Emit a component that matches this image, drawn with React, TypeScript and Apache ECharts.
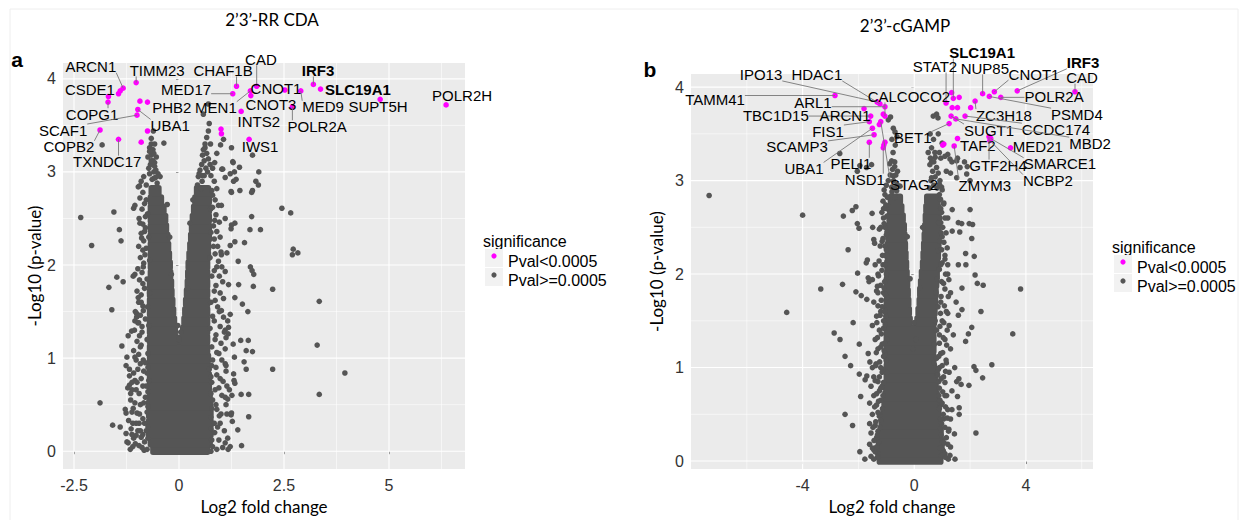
import React, { useEffect, useRef } from 'react';
import * as echarts from 'echarts';

const GREY = '#555555';
const MAGENTA = '#ff00ff';
const FONT = '"Liberation Sans", Arial, sans-serif';
const TFONT = 'Lato, "Open Sans", sans-serif';

// ---------- Panel a : 2'3'-RR CDA ----------
const aXRange = [-2.762, 6.81];
const aYRange = [-0.191, 4.17];
const aXTicks = [-2.5, 0, 2.5, 5];
const aXMinor = [-1.25, 1.25, 3.75, 6.25];
const aYTicks = [0, 1, 2, 3, 4];
const aYMinor = [0.5, 1.5, 2.5, 3.5];

// dense (fully overlapping) core of the cloud: [y, xStart, xEnd]
const aCoreRows: number[][] = [
  [0.02, -0.62, 0.68], [0.1, -0.68, 0.74], [0.2, -0.72, 0.76], [0.3, -0.72, 0.76], [0.4, -0.72, 0.76],
  [0.5, -0.72, 0.75], [0.6, -0.7, 0.74], [0.7, -0.7, 0.72], [0.8, -0.7, 0.72], [0.9, -0.7, 0.7],
  [1.0, -0.7, 0.7], [1.1, -0.7, 0.68],
  [1.2, -0.7, -0.06], [1.2, 0.06, 0.68], [1.3, -0.7, -0.09], [1.3, 0.09, 0.68],
  [1.4, -0.7, -0.11], [1.4, 0.12, 0.68], [1.5, -0.7, -0.13], [1.5, 0.14, 0.68],
  [1.6, -0.7, -0.15], [1.6, 0.16, 0.68], [1.7, -0.7, -0.17], [1.7, 0.18, 0.68],
  [1.8, -0.7, -0.18], [1.8, 0.2, 0.68], [1.9, -0.68, -0.2], [1.9, 0.21, 0.68],
  [2.0, -0.68, -0.21], [2.0, 0.22, 0.68], [2.1, -0.68, -0.23], [2.1, 0.24, 0.7],
  [2.2, -0.68, -0.25], [2.2, 0.26, 0.7], [2.3, -0.68, -0.27], [2.3, 0.28, 0.72],
  [2.4, -0.68, -0.3], [2.4, 0.3, 0.72], [2.5, -0.68, -0.32], [2.5, 0.32, 0.72],
  [2.6, -0.68, -0.36], [2.6, 0.35, 0.72], [2.7, -0.68, -0.42], [2.7, 0.38, 0.72],
  [2.8, -0.66, -0.48], [2.8, 0.42, 0.7],
];

const aGrey: number[][] = [
  // upper part of the arms
  [-1.83, 3.29], [-0.61, 3.44], [-0.66, 3.3], [-0.7, 3.26], [-0.62, 3.24], [-0.36, 3.31], [-0.66, 3.18],
  [-0.62, 3.12], [-0.68, 3.08], [-0.58, 3.1], [-0.55, 3.02], [-0.5, 2.98], [-0.45, 2.95], [-0.6, 2.93], [-0.52, 2.88],
  [0.58, 3.62], [0.7, 3.73], [0.72, 3.52], [0.7, 3.44], [0.66, 3.37], [0.99, 3.29], [0.62, 3.26], [0.58, 3.24],
  [0.56, 3.18], [0.66, 3.2], [1.28, 3.11], [1.44, 3.05], [1.75, 3.18], [1.04, 3.03], [0.5, 3.02], [0.56, 2.96],
  [0.68, 3.0], [0.46, 2.95], [0.55, 2.9], [0.44, 2.86], [0.52, 2.82], [1.22, 2.98], [1.32, 3.0], [1.36, 2.92],
  [1.9, 3.0], [1.83, 2.9], [1.75, 2.8], [1.45, 2.8],
  [-0.6, 3.0], [-0.7, 2.98], [-0.64, 2.92], [-0.56, 2.94], [-0.72, 3.04], [-0.58, 3.06], [-0.66, 3.12],
  [-0.74, 3.16], [-0.54, 3.16], [-0.6, 3.2], [-0.7, 3.22], [-0.66, 3.36], [-0.58, 3.3],
  [0.48, 2.98], [0.6, 2.96], [0.64, 3.04], [0.54, 3.08], [0.74, 3.08], [0.6, 3.12], [0.7, 3.14], [0.8, 3.04],
  [0.62, 3.3], [0.75, 3.3], [0.85, 3.1], [0.9, 3.2],
  // left outliers
  [-2.34, 2.51], [-2.08, 2.21], [-1.55, 2.57], [-1.42, 2.38], [-1.38, 2.26], [-1.48, 1.87], [-1.67, 1.76],
  [-1.33, 1.82], [-1.6, 1.52], [-1.08, 2.61], [-0.94, 2.85], [-1.09, 1.88], [-1.36, 1.13], [-1.24, 1.01],
  [-1.18, 0.88], [-1.88, 0.52], [-1.58, 0.28], [-1.4, 0.26], [-1.26, 0.41], [-1.18, 0.71], [-1.12, 0.66],
  [-1.15, 0.62], [-1.05, 0.76], [-1.0, 0.74], [-1.26, 0.19], [-1.21, 0.09], [-1.08, 0.14], [-1.02, 0.17],
  [-0.83, 0.01], [-1.01, 1.48], [-1.05, 1.4], [-0.96, 1.38], [-0.85, 1.51], [-1.09, 0.46], [-1.0, 0.41],
  [-1.14, 0.24], [-1.12, 0.18], [-0.95, 0.3], [-0.92, 0.22],
  // right outliers
  [1.3, 2.9], [1.24, 2.79], [1.89, 2.86], [1.73, 2.78], [1.73, 2.52], [1.69, 2.38], [1.94, 2.38], [2.45, 2.61],
  [2.66, 2.56], [2.72, 2.17], [2.83, 2.13], [2.7, 2.11], [1.56, 2.24], [1.33, 2.45], [1.24, 2.39], [1.41, 2.04],
  [1.7, 1.98], [1.74, 1.94], [1.78, 1.9], [1.77, 1.77], [2.23, 1.74], [1.42, 1.79], [1.51, 1.58], [1.64, 1.5],
  [3.34, 1.61], [3.29, 1.14], [3.95, 0.84], [3.34, 0.61], [2.23, 0.88], [1.47, 1.19], [1.65, 1.19], [1.6, 1.08],
  [1.75, 1.07], [1.55, 0.96], [1.6, 0.88], [1.32, 1.01], [1.3, 0.83], [1.31, 0.76], [1.48, 0.61], [1.66, 0.61],
  [1.66, 0.37], [1.49, 0.06], [1.17, 0.02], [1.22, 0.05], [1.24, 0.39], [1.27, 0.32], [1.14, 0.4], [1.16, 0.56],
  [1.2, 0.66], [1.26, 0.6], [1.17, 1.26], [1.16, 1.4], [1.22, 1.47], [1.1, 1.3], [1.12, 1.22], [1.14, 2.13], [1.22, 2.21],
  // inside the V
  [-0.03, 1.35], [0.04, 1.28], [0.0, 1.2], [-0.18, 1.9], [0.2, 1.75], [-0.22, 2.3], [0.26, 2.45], [-0.28, 2.65], [0.33, 2.7],
];

// scattered points bordering the dense core
const aFuzz: number[][] = [
  [-0.97, 2.84], [-1.05, 2.64], [-0.93, 2.45], [-0.89, 2.29], [-0.81, 2.11], [-1.05, 1.9], [-0.97, 1.65],
  [-1.01, 1.44], [-1.13, 1.29], [-1.21, 1.24], [-1.05, 1.01], [-0.78, 2.7], [-0.75, 2.55], [-0.8, 2.4],
  [-0.72, 2.3], [-0.78, 2.18], [-0.7, 2.05], [-0.85, 1.98], [-0.76, 1.85], [-0.82, 1.75], [-0.7, 1.7],
  [-0.9, 1.6], [-0.75, 1.55], [-0.8, 1.42], [-0.72, 1.35], [-0.88, 1.28], [-0.76, 1.2], [-0.92, 1.12],
  [-0.74, 1.05], [-0.85, 0.98],
  [-0.84, 2.95], [-0.9, 2.9], [-0.78, 2.86], [-0.86, 2.78], [-0.93, 2.72], [-0.82, 2.66], [-0.88, 2.6],
  [-0.8, 2.52], [-0.95, 2.5], [-0.86, 2.44], [-0.82, 2.36], [-0.9, 2.34], [-0.84, 2.26], [-0.96, 2.2],
  [-0.86, 2.16], [-0.92, 2.08], [-0.84, 2.02], [-0.98, 1.96], [-0.88, 1.92], [-0.94, 1.84], [-0.86, 1.8],
  [-1.0, 1.72], [-0.9, 1.68], [-0.96, 1.6], [-0.86, 1.56], [-1.04, 1.5], [-0.92, 1.46], [-0.98, 1.38],
  [-0.88, 1.34], [-1.06, 1.3], [-0.94, 1.24], [-1.0, 1.18], [-0.9, 1.14], [-1.08, 1.08], [-0.96, 1.04],
  [-1.02, 0.98], [-0.92, 0.94],
  [-1.26, 0.92], [-1.18, 0.81], [-1.22, 0.68], [-1.15, 0.55], [-1.28, 0.45], [-1.2, 0.33], [-1.24, 0.1],
  [-1.1, 0.05], [-0.95, 0.06], [-0.9, 0.15], [-0.82, 0.1], [-0.78, 0.22], [-0.86, 0.35], [-0.76, 0.42],
  [-0.92, 0.5], [-0.8, 0.58], [-0.95, 0.62], [-0.78, 0.7], [-0.9, 0.78], [-0.76, 0.84], [-0.98, 0.88],
  [-0.8, 0.95], [-1.05, 0.52], [-1.02, 0.3],
  [-0.74, 0.9], [-0.84, 0.86], [-1.08, 0.84], [-0.72, 0.76], [-1.12, 0.74], [-0.86, 0.7], [-0.74, 0.64],
  [-1.02, 0.66], [-0.84, 0.52], [-0.74, 0.48], [-1.12, 0.42], [-0.94, 0.4], [-0.82, 0.3], [-0.74, 0.26],
  [-1.1, 0.3], [-0.98, 0.22], [-0.86, 0.18], [-0.74, 0.14], [-1.04, 0.08], [-0.88, 0.04], [-0.76, 0.02], [-1.16, 0.02],
  [1.06, 3.35], [1.25, 3.26], [1.29, 3.1], [1.02, 3.03], [1.1, 2.94], [1.25, 2.78], [1.01, 2.64], [1.1, 2.5],
  [1.25, 2.43], [1.33, 2.25], [1.01, 2.11], [1.1, 1.93], [1.18, 1.79], [1.33, 1.65], [1.01, 1.51], [1.18, 1.33],
  [1.29, 1.15], [1.1, 0.94], [1.33, 0.73], [1.1, 0.58], [1.25, 0.41], [1.4, 0.23], [1.1, 0.09],
  [0.8, 2.75], [0.75, 2.6], [0.85, 2.48], [0.76, 2.35], [0.82, 2.2], [0.74, 2.08], [0.9, 1.98], [0.78, 1.88],
  [0.84, 1.72], [0.76, 1.6], [0.92, 1.55], [0.8, 1.45], [0.74, 1.32], [0.88, 1.25], [0.78, 1.12], [0.95, 1.05],
  [0.8, 0.98], [0.72, 0.88], [0.9, 0.82], [0.78, 0.74], [0.95, 0.68], [0.8, 0.55], [0.9, 0.45], [0.76, 0.36],
  [0.98, 0.3], [0.85, 0.2], [0.95, 0.12], [0.8, 0.05], [1.0, 0.4], [1.05, 0.75],
  [0.76, 2.96], [0.84, 2.9], [0.9, 2.82], [0.78, 2.8], [0.86, 2.7], [0.94, 2.64], [0.8, 2.62], [0.88, 2.54],
  [0.96, 2.46], [0.82, 2.42], [0.9, 2.36], [0.98, 2.3], [0.84, 2.28], [0.92, 2.2], [1.0, 2.14], [0.86, 2.12],
  [0.94, 2.04], [1.02, 1.98], [0.84, 1.94], [0.96, 1.88], [1.04, 1.82], [0.88, 1.78], [0.98, 1.7], [1.06, 1.64],
  [0.86, 1.62], [0.96, 1.5], [1.06, 1.44], [0.84, 1.4], [0.98, 1.34], [1.08, 1.28], [0.86, 1.2], [1.0, 1.16],
  [1.1, 1.1], [0.9, 1.06], [1.02, 0.98], [1.12, 0.92],
  [0.78, 0.92], [0.88, 0.9], [1.12, 0.86], [0.76, 0.8], [0.98, 0.78], [1.14, 0.7], [0.86, 0.66], [0.76, 0.62],
  [1.02, 0.6], [0.88, 0.5], [0.78, 0.46], [1.12, 0.5], [0.96, 0.38], [0.84, 0.3], [0.76, 0.24], [1.08, 0.22],
  [0.92, 0.26], [0.78, 0.12], [1.04, 0.04], [0.9, 0.02], [0.76, 0.0], [1.16, 0.14],
];

const aSig: number[][] = [
  [-1.33, 3.9], [-1.4, 3.87], [-1.44, 3.84], [-1.68, 3.81], [-1.69, 3.75], [-1.02, 3.96], [-0.93, 3.76],
  [-0.75, 3.75], [-0.98, 3.67], [-1.0, 3.61], [-0.75, 3.44], [-1.88, 3.45], [-1.44, 3.35], [-0.9, 3.32],
  [1.37, 3.92], [1.28, 3.84], [1.7, 3.87], [1.71, 3.82], [1.85, 3.92], [1.48, 3.65], [1.0, 3.46], [1.01, 3.41],
  [1.67, 3.35], [2.52, 3.88], [2.9, 3.87], [3.2, 3.94], [3.37, 3.89], [2.7, 3.7], [4.79, 3.78], [6.36, 3.72],
];

// [gene, index into aSig, label x, label y, bold]
const aLabels: any[][] = [
  ['ARCN1', 0, -2.1, 4.13, 0], ['TIMM23', 5, -0.52, 4.09, 0], ['CHAF1B', 14, 1.05, 4.09, 0],
  ['CAD', 18, 1.95, 4.21, 0], ['IRF3', 25, 3.31, 4.09, 1], ['CSDE1', 1, -2.12, 3.89, 0],
  ['MED17', 15, 0.17, 3.89, 0], ['CNOT1', 23, 2.31, 3.9, 0], ['SLC19A1', 26, 4.26, 3.89, 1],
  ['POLR2H', 29, 6.74, 3.82, 0], ['PHB2', 7, -0.17, 3.69, 0], ['MEN1', 16, 0.88, 3.69, 0],
  ['CNOT3', 17, 2.19, 3.72, 0], ['MED9', 24, 3.43, 3.7, 0], ['SUPT5H', 28, 4.74, 3.7, 0],
  ['COPG1', 4, -2.07, 3.62, 0], ['INTS2', 19, 1.9, 3.54, 0], ['POLR2A', 27, 3.29, 3.49, 0],
  ['UBA1', 8, -0.21, 3.5, 0], ['SCAF1', 9, -2.76, 3.45, 0], ['COPB2', 11, -2.62, 3.27, 0],
  ['IWS1', 22, 1.93, 3.27, 0], ['TXNDC17', 12, -1.71, 3.11, 0],
];

// ---------- Panel b : 2'3'-cGAMP ----------
const bXRange = [-8.0, 6.405];
const bYRange = [-0.085, 4.14];
const bXTicks = [-4, 0, 4];
const bXMinor = [-6, -2, 2, 6];
const bYTicks = [0, 1, 2, 3, 4];
const bYMinor = [0.5, 1.5, 2.5, 3.5];

const bCoreRows: number[][] = [
  [0.02, -1.25, 0.95], [0.1, -1.3, 1.0], [0.2, -1.28, 1.0], [0.3, -1.22, 0.96], [0.4, -1.18, 0.92],
  [0.5, -1.12, 0.88], [0.6, -1.08, 0.85], [0.7, -1.05, 0.82], [0.8, -1.02, 0.78], [0.9, -1.0, 0.75],
  [1.0, -1.0, 0.72], [1.1, -1.0, 0.7], [1.2, -1.0, 0.7], [1.3, -1.0, 0.7], [1.4, -1.0, 0.7],
  [1.5, -1.0, -0.15], [1.5, 0.1, 0.72], [1.6, -1.0, -0.18], [1.6, 0.14, 0.74],
  [1.7, -1.0, -0.2], [1.7, 0.18, 0.76], [1.8, -1.0, -0.22], [1.8, 0.2, 0.78],
  [1.9, -1.0, -0.24], [1.9, 0.23, 0.8], [2.0, -0.98, -0.26], [2.0, 0.26, 0.82],
  [2.1, -0.98, -0.28], [2.1, 0.3, 0.84], [2.2, -0.96, -0.3], [2.2, 0.32, 0.86],
  [2.3, -0.95, -0.32], [2.3, 0.34, 0.88], [2.4, -0.94, -0.34], [2.4, 0.36, 0.88],
  [2.5, -0.92, -0.36], [2.5, 0.38, 0.88], [2.6, -0.9, -0.4], [2.6, 0.4, 0.88],
  [2.7, -0.88, -0.45], [2.7, 0.42, 0.86], [2.8, -0.85, -0.5], [2.8, 0.45, 0.85],
];

const bGrey: number[][] = [
  // top
  [-0.85, 3.68], [-0.93, 3.65], [-0.69, 3.52], [-0.75, 3.56], [-0.62, 3.47], [-0.8, 3.44], [0.68, 3.69],
  [0.8, 3.71], [0.85, 3.67], [0.86, 3.5], [0.57, 3.5], [0.69, 3.44], [0.5, 3.3], [0.75, 3.25], [0.62, 3.2],
  [0.95, 3.24], [1.2, 3.28], [1.35, 3.2], [1.55, 3.24], [1.8, 3.2], [1.9, 3.15],
  [-2.67, 3.29], [-1.53, 3.17], [-1.71, 3.14], [-2.04, 3.1], [-1.95, 3.16],
  [-7.35, 2.84], [-4.0, 2.63], [2.0, 2.69],
  [-0.81, 3.21], [-0.75, 3.05], [-0.93, 3.0], [-0.81, 2.93], [-0.63, 2.89], [-0.51, 2.94], [-0.69, 2.82],
  [-0.6, 3.1], [-0.7, 3.15],
  [0.62, 3.35], [0.74, 3.3], [0.56, 3.17], [0.8, 3.14], [0.62, 3.03], [0.92, 3.0], [0.98, 2.93],
  [1.1, 3.26], [1.28, 3.23], [1.52, 3.21], [1.64, 3.14], [1.88, 3.07], [2.0, 3.0], [1.52, 3.03], [1.3, 3.08], [1.15, 3.1],
  [-0.7, 2.92], [-0.8, 2.88], [-0.62, 2.96], [-0.74, 3.0], [-0.86, 3.06], [-0.66, 3.06], [-0.78, 3.12],
  [-0.7, 3.2], [-0.88, 3.18], [-0.76, 3.3], [-0.68, 3.38],
  [0.55, 2.92], [0.7, 2.95], [0.82, 2.92], [0.6, 3.0], [0.75, 3.04], [0.66, 3.1], [0.86, 3.08], [0.58, 3.24],
  [0.7, 3.2], [0.9, 3.3], [1.0, 3.4],
  // left scatter
  [-2.54, 2.62], [-2.22, 2.68], [-2.09, 2.72], [-2.37, 2.26], [-2.04, 2.54], [-1.98, 2.49], [-1.51, 2.65],
  [-1.49, 2.5], [-1.25, 2.48], [-1.45, 2.37], [-1.42, 2.33], [-1.68, 2.15], [-1.72, 2.12], [-2.03, 2.01],
  [-2.57, 1.89], [-3.35, 1.84], [-4.57, 1.59], [-2.09, 1.81], [-1.9, 1.77], [-1.7, 1.73], [-2.87, 1.37],
  [-2.66, 1.3], [-2.19, 1.48], [-1.97, 1.25], [-2.48, 1.12], [-2.28, 1.02], [-1.97, 0.93], [-1.7, 0.91],
  [-1.76, 0.87], [-1.92, 0.69], [-2.48, 0.5], [-2.21, 0.38], [-1.95, 0.1], [-1.77, 0.02],
  [-1.65, 1.96], [-1.62, 1.92], [-1.5, 1.94], [-1.35, 1.82], [-1.32, 1.87], [-1.65, 1.15], [-1.59, 1.06],
  [-1.37, 1.04], [-1.4, 2.1], [-1.3, 2.0], [-1.45, 1.7], [-1.2, 1.6], [-1.35, 1.55], [-1.5, 1.45],
  [-1.25, 1.4], [-1.4, 1.3], [-1.15, 1.25], [-1.3, 1.2], [-1.5, 1.0], [-1.2, 1.0], [-1.45, 0.9],
  [-1.3, 0.85], [-1.55, 0.8], [-1.25, 0.75], [-1.45, 0.7], [-1.6, 0.62], [-1.35, 0.6], [-1.5, 0.5],
  [-1.25, 0.5], [-1.6, 0.4], [-1.4, 0.38], [-1.55, 0.3], [-1.35, 0.25], [-1.6, 0.18], [-1.45, 0.12],
  [-1.3, 0.08], [-1.55, 0.05], [-1.1, 1.8], [-1.05, 2.2], [-1.15, 2.35], [-1.05, 2.5], [-1.1, 2.7],
  [-1.0, 1.95], [-1.1, 1.5], [-1.05, 1.15], [-1.0, 0.95],
  // right scatter
  [1.36, 2.69], [1.58, 2.55], [1.7, 2.54], [1.97, 2.54], [2.09, 2.53], [1.36, 2.46], [1.63, 2.45],
  [2.06, 2.38], [1.84, 2.22], [2.15, 2.19], [1.58, 2.1], [1.85, 2.1], [2.18, 1.99], [2.26, 1.9], [2.47, 1.88],
  [1.71, 1.85], [3.81, 1.84], [2.39, 1.6], [1.71, 1.62], [1.58, 1.56], [3.53, 1.36], [2.06, 1.43], [1.94, 1.36],
  [1.84, 1.28], [2.78, 1.03], [2.14, 1.01], [2.21, 0.97], [2.45, 0.89], [1.96, 0.81], [1.6, 0.88], [1.68, 0.82],
  [1.52, 0.85], [1.55, 0.69], [1.61, 0.57], [1.61, 0.5], [2.21, 0.3], [1.44, 0.29], [1.23, 0.32], [1.46, 0.02],
  [1.22, 0.02], [1.04, 0.11],
  [1.0, 2.4], [1.1, 2.2], [0.95, 2.1], [1.2, 2.0], [1.05, 1.9], [1.3, 1.8], [0.95, 1.7], [1.15, 1.6],
  [1.0, 1.5], [1.25, 1.45], [0.9, 1.35], [1.1, 1.3], [1.3, 1.2], [0.95, 1.15], [1.15, 1.05], [0.9, 1.0],
  [1.25, 0.95], [1.05, 0.9], [1.35, 0.75], [1.1, 0.7], [0.95, 0.6], [1.2, 0.55], [1.05, 0.45], [1.3, 0.45],
  [0.95, 0.35], [1.15, 0.25], [1.3, 0.15], [1.1, 0.08], [1.35, 0.55], [1.45, 1.0], [1.4, 1.35], [1.5, 1.7],
  [1.2, 2.6], [1.05, 2.75], [0.95, 2.55],
  // inside the V
  [0.0, 1.48], [-0.05, 1.2], [0.05, 1.3], [-0.15, 1.95], [0.2, 1.85], [-0.25, 2.4], [0.3, 2.5],
];

const bFuzz: number[][] = [
  [-1.05, 2.85], [-1.0, 2.7], [-1.1, 2.6], [-0.98, 2.45], [-1.05, 2.3], [-0.97, 2.2], [-1.12, 2.1],
  [-1.0, 2.0], [-1.08, 1.85], [-0.98, 1.75], [-1.15, 1.65], [-1.02, 1.55], [-1.1, 1.42], [-0.98, 1.3],
  [-1.08, 1.18], [-1.0, 1.08],
  [-1.0, 2.95], [-1.08, 2.9], [-0.96, 2.82], [-1.12, 2.78], [-1.02, 2.74], [-1.16, 2.66], [-0.98, 2.62],
  [-1.08, 2.54], [-1.2, 2.5], [-1.0, 2.42], [-1.12, 2.38], [-1.22, 2.3], [-1.0, 2.26], [-1.14, 2.2],
  [-1.26, 2.14], [-1.04, 2.1], [-1.16, 2.04], [-1.28, 1.98], [-1.06, 1.92], [-1.2, 1.88], [-1.3, 1.8],
  [-1.04, 1.78], [-1.18, 1.72], [-1.3, 1.66], [-1.06, 1.6], [-1.22, 1.56], [-1.34, 1.48], [-1.04, 1.46],
  [-1.18, 1.36], [-1.32, 1.32], [-1.06, 1.26], [-1.2, 1.22], [-1.36, 1.16], [-1.1, 1.12], [-1.24, 1.06],
  [-1.38, 1.02], [-1.12, 0.98],
  [-1.35, 0.15], [-1.3, 0.32], [-1.25, 0.48], [-1.2, 0.65], [-1.15, 0.8],
  [-1.15, 0.95], [-1.25, 0.9], [-1.4, 0.86], [-1.1, 0.84], [-1.2, 0.78], [-1.35, 0.72], [-1.12, 0.7],
  [-1.28, 0.64], [-1.42, 0.58], [-1.14, 0.56], [-1.3, 0.52], [-1.2, 0.44], [-1.38, 0.42], [-1.48, 0.36],
  [-1.22, 0.36], [-1.32, 0.28], [-1.44, 0.22], [-1.28, 0.2], [-1.4, 0.1], [-1.5, 0.14], [-1.32, 0.04], [-1.45, 0.02],
  [0.9, 2.85], [0.95, 2.7], [0.88, 2.55], [0.92, 2.35], [0.85, 2.25], [0.9, 2.05], [0.82, 1.95], [0.78, 1.8],
  [0.85, 1.65], [0.75, 1.5], [0.8, 1.4], [0.72, 1.25], [0.8, 1.1], [0.7, 1.05],
  [0.9, 2.96], [1.0, 2.9], [0.94, 2.8], [1.06, 2.76], [0.98, 2.66], [1.1, 2.6], [0.92, 2.6], [1.02, 2.5],
  [1.14, 2.44], [0.96, 2.44], [1.06, 2.34], [1.18, 2.28], [0.98, 2.26], [1.1, 2.16], [1.2, 2.1], [1.0, 2.12],
  [1.12, 2.0], [1.24, 1.94], [0.98, 1.92], [1.1, 1.84], [1.22, 1.76], [0.96, 1.76], [1.08, 1.66], [1.2, 1.58],
  [0.94, 1.58], [1.06, 1.48], [1.18, 1.4], [0.92, 1.44], [1.04, 1.32], [1.16, 1.24], [0.9, 1.26], [1.02, 1.16],
  [1.14, 1.08], [0.88, 1.12], [1.0, 1.02], [1.12, 0.96], [0.86, 0.98],
  [1.0, 0.2], [0.95, 0.45], [0.92, 0.65], [0.88, 0.85], [0.82, 0.95],
  [0.84, 0.92], [0.96, 0.88], [1.1, 0.84], [0.9, 0.78], [1.02, 0.74], [1.16, 0.7], [0.88, 0.7], [1.0, 0.62],
  [1.12, 0.58], [0.9, 0.56], [1.04, 0.5], [1.18, 0.46], [0.98, 0.4], [1.1, 0.36], [1.24, 0.34], [0.96, 0.28],
  [1.06, 0.2], [1.2, 0.18], [0.98, 0.06], [1.12, 0.04], [1.28, 0.06], [0.94, 0.14],
];

const bSig: number[][] = [
  [-2.84, 3.91], [-1.33, 3.84], [-1.23, 3.82], [-1.05, 3.79], [-1.8, 3.77], [-1.56, 3.69], [-1.11, 3.71],
  [-1.05, 3.69], [-1.2, 3.63], [-1.25, 3.6], [-1.61, 3.63], [-1.5, 3.56], [-1.44, 3.49], [-1.61, 3.41],
  [-1.05, 3.41], [-1.09, 3.38], [-1.11, 3.35], [1.34, 3.94], [1.4, 3.88], [1.61, 3.89], [1.14, 3.83],
  [1.36, 3.78], [1.55, 3.78], [2.02, 3.78], [2.18, 3.85], [1.32, 3.69], [1.49, 3.66], [1.82, 3.69],
  [1.25, 3.61], [1.55, 3.45], [1.02, 3.38], [1.06, 3.39], [1.43, 3.37], [2.45, 3.93], [2.69, 3.9],
  [2.87, 3.95], [3.1, 3.89], [3.69, 3.96], [5.76, 3.95], [2.68, 3.47], [2.74, 3.45], [2.71, 3.43], [3.45, 3.35],
];

const bLabels: any[][] = [
  ['SLC19A1', 18, 2.43, 4.37, 1], ['STAT2', 20, 0.74, 4.22, 0], ['NUP85', 33, 2.53, 4.2, 0],
  ['IRF3', 37, 6.05, 4.26, 1], ['CNOT1', 35, 4.29, 4.14, 0], ['CAD', 38, 6.01, 4.1, 0],
  ['IPO13', 1, -5.49, 4.13, 0], ['HDAC1', 2, -3.49, 4.13, 0], ['TAMM41', 0, -7.14, 3.87, 0],
  ['CALCOCO2', 7, -0.19, 3.9, 0], ['POLR2A', 36, 5.01, 3.9, 0], ['ARL1', 3, -3.63, 3.84, 0],
  ['TBC1D15', 5, -4.96, 3.7, 0], ['ARCN1', 4, -2.48, 3.7, 0], ['ZC3H18', 24, 3.21, 3.7, 0],
  ['PSMD4', 34, 5.83, 3.71, 0], ['FIS1', 10, -3.09, 3.53, 0], ['SUGT1', 25, 2.68, 3.54, 0],
  ['CCDC174', 27, 5.08, 3.55, 0], ['BET1', 28, -0.05, 3.46, 0], ['MBD2', 26, 6.3, 3.4, 0],
  ['SCAMP3', 12, -4.2, 3.36, 0], ['TAF2', 29, 2.28, 3.37, 0], ['MED21', 42, 4.43, 3.36, 0],
  ['UBA1', 11, -3.95, 3.13, 0], ['PELI1', 13, -2.27, 3.18, 0], ['GTF2H4', 39, 3.0, 3.16, 0],
  ['SMARCE1', 40, 5.22, 3.18, 0], ['NSD1', 16, -1.77, 3.01, 0], ['STAG2', 8, -0.01, 2.96, 0],
  ['ZMYM3', 32, 2.53, 2.95, 0], ['NCBP2', 41, 4.79, 3.0, 0],
];

// ---------- helpers ----------
let measureCtx: CanvasRenderingContext2D | null = null;
function measure(text: string, font: string): number {
  if (!measureCtx) measureCtx = document.createElement('canvas').getContext('2d');
  if (!measureCtx) return text.length * 8;
  measureCtx.font = font;
  return measureCtx.measureText(text).width;
}

function gridLineSeries(idx: number, xr: number[], yr: number[], xMaj: number[], xMin: number[], yMaj: number[], yMin: number[]) {
  const data = [
    ...xMin.map((v) => [v, yr[0], 1]),
    ...yMin.map((v) => [xr[0], v, 3]),
    ...xMaj.map((v) => [v, yr[0], 0]),
    ...yMaj.map((v) => [xr[0], v, 2]),
  ];
  return {
    type: 'custom', xAxisIndex: idx, yAxisIndex: idx, z: 1, silent: true, data,
    renderItem: (params: any, api: any) => {
      const cs = params.coordSys;
      const kind = api.value(2);
      const p = api.coord([api.value(0), api.value(1)]);
      const lw = kind % 2 === 0 ? 1.1 : 0.55;
      if (kind < 2) {
        return { type: 'line', shape: { x1: p[0], y1: cs.y, x2: p[0], y2: cs.y + cs.height }, style: { stroke: '#ffffff', lineWidth: lw } };
      }
      return { type: 'line', shape: { x1: cs.x, y1: p[1], x2: cs.x + cs.width, y2: p[1] }, style: { stroke: '#ffffff', lineWidth: lw } };
    },
  };
}

function coreSeries(idx: number, rows: number[][]) {
  return {
    type: 'custom', xAxisIndex: idx, yAxisIndex: idx, z: 2, silent: true,
    data: rows.map((r) => [r[1], r[0], r[2]]),
    encode: { x: [0, 2], y: 1 },
    renderItem: (params: any, api: any) => {
      const p0 = api.coord([api.value(0), api.value(1)]);
      const p1 = api.coord([api.value(2), api.value(1)]);
      const h = Math.abs(api.size([0, 0.1])[1]) + 2;
      return {
        type: 'rect',
        shape: { x: p0[0] - 2.8, y: p0[1] - h / 2, width: p1[0] - p0[0] + 5.6, height: h, r: 2.8 },
        style: { fill: GREY },
      };
    },
  };
}

function labelSeries(idx: number, labels: any[][], sig: number[][]) {
  return {
    type: 'custom', xAxisIndex: idx, yAxisIndex: idx, z: 10, silent: true, clip: false,
    data: labels.map((l) => [sig[l[1]][0], sig[l[1]][1], l[2], l[3]]),
    encode: { x: [0, 2], y: [1, 3] },
    renderItem: (params: any, api: any) => {
      const lab = labels[params.dataIndex];
      const pt = api.coord([api.value(0), api.value(1)]);
      const lp = api.coord([api.value(2), api.value(3)]);
      const font = (lab[4] ? 'bold ' : '') + '15px ' + FONT;
      const w = measure(lab[0], font);
      const h = 12;
      const x0 = lp[0] - w / 2, x1 = lp[0] + w / 2, y0 = lp[1] - h / 2, y1 = lp[1] + h / 2;
      const cx = Math.min(Math.max(pt[0], x0), x1);
      const cy = Math.min(Math.max(pt[1], y0), y1);
      const d = Math.hypot(cx - pt[0], cy - pt[1]);
      const children: any[] = [];
      if (d > 6) {
        children.push({ type: 'line', shape: { x1: pt[0], y1: pt[1], x2: cx, y2: cy }, style: { stroke: '#777777', lineWidth: 0.9 } });
      }
      children.push({
        type: 'text', x: lp[0], y: lp[1],
        style: { text: lab[0], font, fill: '#000000', align: 'center', verticalAlign: 'middle' },
      });
      return { type: 'group', children };
    },
  };
}

function xAxisCfg(idx: number, range: number[], ticks: number[]) {
  return {
    type: 'value', gridIndex: idx, min: range[0], max: range[1],
    axisLine: { show: false },
    axisTick: { show: true, customValues: ticks, length: 3, lineStyle: { color: '#333333', width: 1 } },
    axisLabel: { customValues: ticks, color: '#333333', fontSize: 16, fontFamily: FONT, margin: 8 },
    splitLine: { show: false },
    name: 'Log2 fold change', nameLocation: 'middle', nameGap: 29,
    nameTextStyle: { color: '#000', fontSize: 17, fontFamily: TFONT },
  };
}

function yAxisCfg(idx: number, range: number[], ticks: number[], gap: number) {
  return {
    type: 'value', gridIndex: idx, min: range[0], max: range[1],
    axisLine: { show: false },
    axisTick: { show: true, customValues: ticks, length: 3, lineStyle: { color: '#333333', width: 1 } },
    axisLabel: { customValues: ticks, color: '#333333', fontSize: 16, fontFamily: FONT, margin: 7 },
    splitLine: { show: false },
    name: '-Log10 (p-value)', nameLocation: 'middle', nameRotate: 90, nameGap: gap,
    nameTextStyle: { color: '#000', fontSize: 17, fontFamily: TFONT },
  };
}

function legendGraphics(x: number, y: number) {
  return [
    { type: 'text', x, y, style: { text: 'significance', font: '16px ' + FONT, fill: '#000', align: 'left', verticalAlign: 'middle' } },
    { type: 'rect', shape: { x: x + 2, y: y + 8, width: 18, height: 18 }, style: { fill: '#f2f2f2' } },
    { type: 'rect', shape: { x: x + 2, y: y + 27, width: 18, height: 18 }, style: { fill: '#f2f2f2' } },
    { type: 'circle', shape: { cx: x + 11, cy: y + 15, r: 2.6 }, style: { fill: MAGENTA } },
    { type: 'circle', shape: { cx: x + 11, cy: y + 34, r: 2.6 }, style: { fill: GREY } },
    { type: 'text', x: x + 25, y: y + 20, style: { text: 'Pval<0.0005', font: '16px ' + FONT, fill: '#000', align: 'left', verticalAlign: 'middle' } },
    { type: 'text', x: x + 25, y: y + 39, style: { text: 'Pval>=0.0005', font: '16px ' + FONT, fill: '#000', align: 'left', verticalAlign: 'middle' } },
  ];
}

function pointSeries(idx: number, data: number[][], color: string, z: number, name: string) {
  return {
    type: 'scatter', name, xAxisIndex: idx, yAxisIndex: idx, z, silent: true, symbolSize: 5.6,
    itemStyle: { color, opacity: 1 }, data,
  };
}

export default function App() {
  const ref = useRef<HTMLDivElement>(null);
  useEffect(() => {
    if (!ref.current) return;
    const chart = echarts.init(ref.current, null, { renderer: 'svg' });
    const option: any = {
      animation: false,
      backgroundColor: '#ffffff',
      textStyle: { fontFamily: FONT },
      grid: [
        { left: 63, top: 63, width: 402, height: 410, show: true, backgroundColor: '#ebebeb', borderWidth: 0 },
        { left: 691, top: 74, width: 402, height: 399, show: true, backgroundColor: '#ebebeb', borderWidth: 0 },
      ],
      xAxis: [xAxisCfg(0, aXRange, aXTicks), xAxisCfg(1, bXRange, bXTicks)],
      yAxis: [yAxisCfg(0, aYRange, aYTicks, 18), yAxisCfg(1, bYRange, bYTicks, 26)],
      series: [
        gridLineSeries(0, aXRange, aYRange, aXTicks, aXMinor, aYTicks, aYMinor),
        gridLineSeries(1, bXRange, bYRange, bXTicks, bXMinor, bYTicks, bYMinor),
        coreSeries(0, aCoreRows),
        coreSeries(1, bCoreRows),
        pointSeries(0, aGrey, GREY, 3, 'Pval>=0.0005'),
        pointSeries(0, aFuzz, GREY, 3, 'Pval>=0.0005'),
        pointSeries(1, bGrey, GREY, 3, 'Pval>=0.0005'),
        pointSeries(1, bFuzz, GREY, 3, 'Pval>=0.0005'),
        pointSeries(0, aSig, MAGENTA, 4, 'Pval<0.0005'),
        pointSeries(1, bSig, MAGENTA, 4, 'Pval<0.0005'),
        labelSeries(0, aLabels, aSig),
        labelSeries(1, bLabels, bSig),
      ],
      graphic: [
        { type: 'rect', silent: true, shape: { x: 10, y: 9, width: 1228, height: 520 }, style: { fill: 'none', stroke: '#eeeeee', lineWidth: 1 } },
        { type: 'text', x: 272, y: 19, style: { text: '2\u20193\u2019-RR CDA', font: '17px ' + TFONT, fill: '#000', align: 'center', verticalAlign: 'middle' } },
        { type: 'text', x: 905, y: 25, style: { text: '2\u20193\u2019-cGAMP', font: '17px ' + TFONT, fill: '#000', align: 'center', verticalAlign: 'middle' } },
        { type: 'text', x: 17, y: 59, style: { text: 'a', font: 'bold 21px ' + FONT, fill: '#000', align: 'center', verticalAlign: 'middle' } },
        { type: 'text', x: 650, y: 69, style: { text: 'b', font: 'bold 21px ' + FONT, fill: '#000', align: 'center', verticalAlign: 'middle' } },
        ...legendGraphics(483, 241),
        ...legendGraphics(1112, 247),
      ],
    };
    chart.setOption(option);
    return () => chart.dispose();
  }, []);
  return <div ref={ref} style={{ position: 'absolute', left: 0, top: 0, width: 1244, height: 520 }} />;
}
